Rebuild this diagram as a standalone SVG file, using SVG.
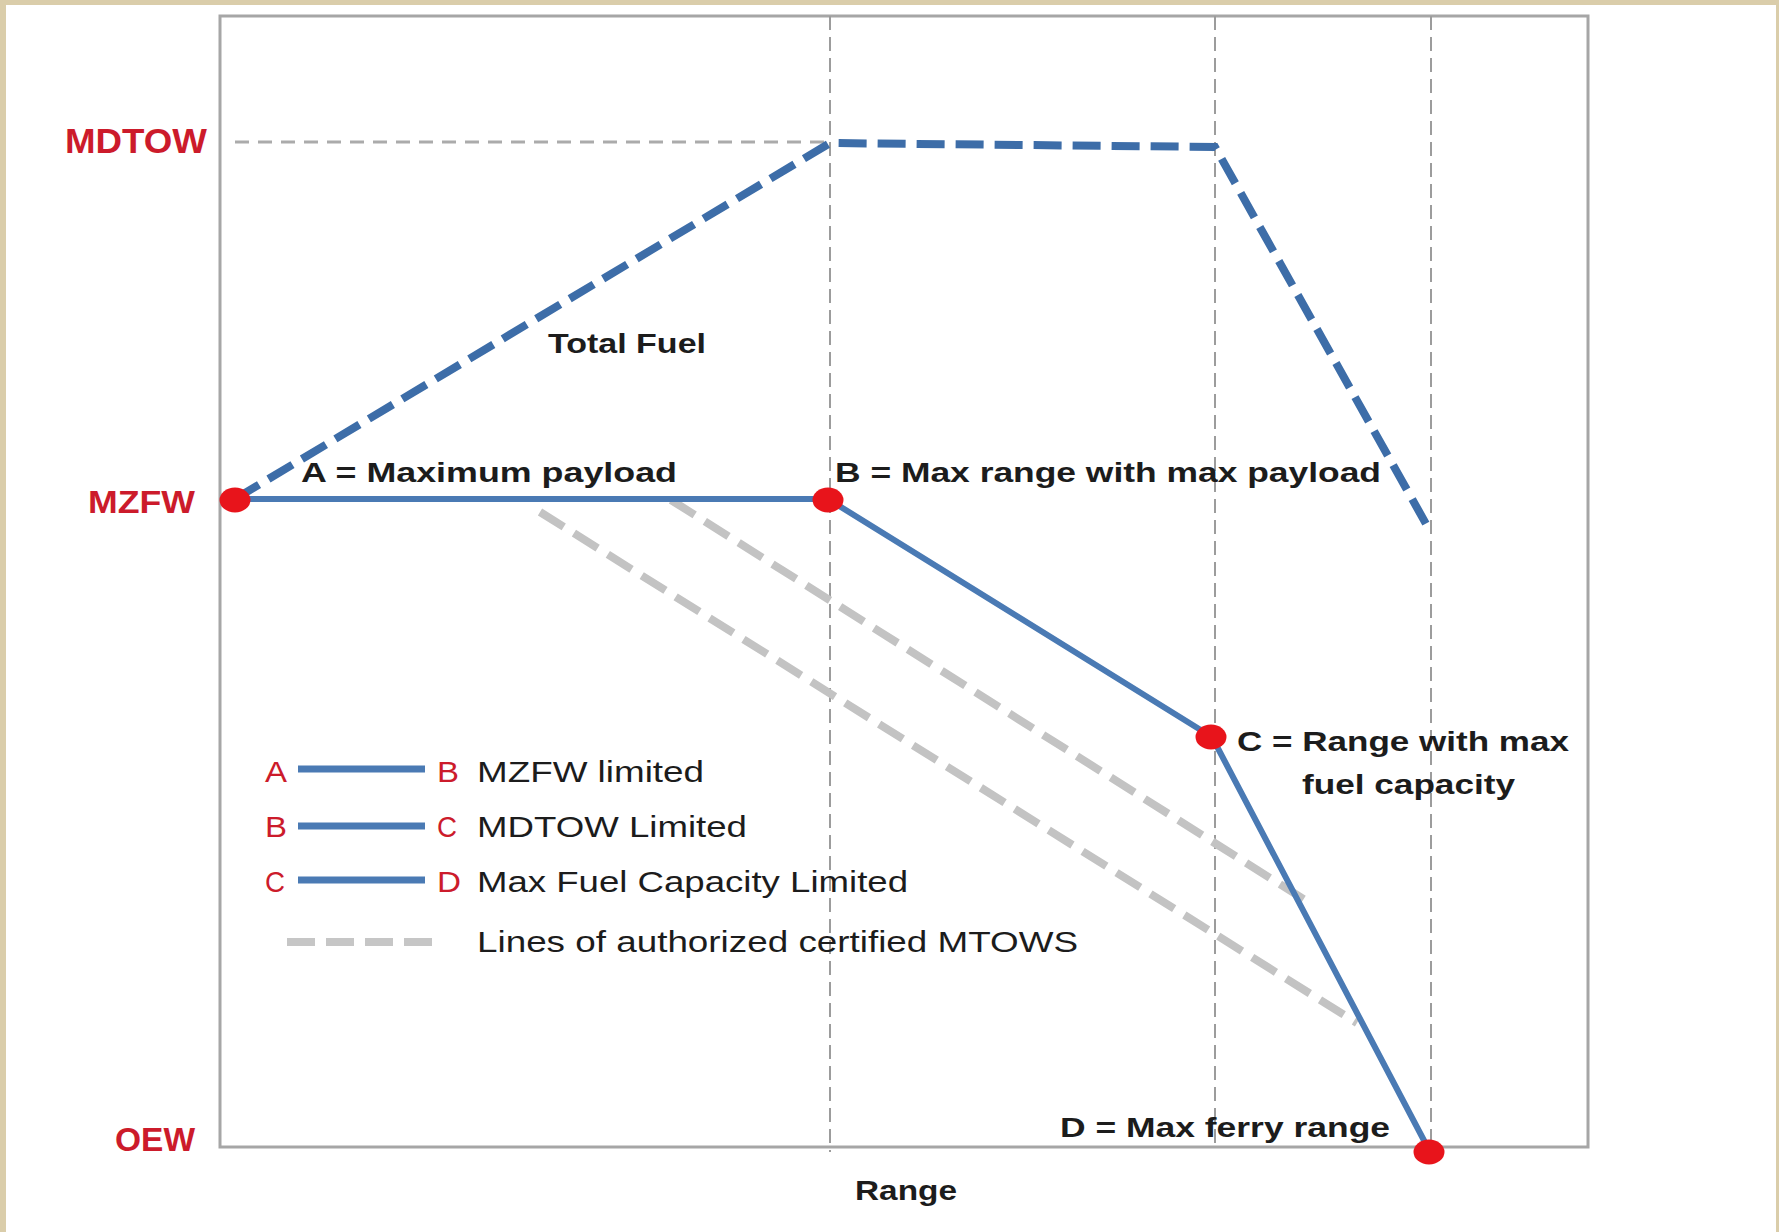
<svg xmlns="http://www.w3.org/2000/svg" width="1779" height="1232" viewBox="0 0 1779 1232">
<style>
  .ax { font-family: "Liberation Sans", Arial, sans-serif; font-weight: bold; fill: #cc1b2b; }
  .lbl { font-family: "Liberation Sans", Arial, sans-serif; font-weight: bold; fill: #1c1c1c; font-size: 28px; }
  .leg { font-family: "Liberation Sans", Arial, sans-serif; fill: #1c1c1c; font-size: 30px; }
  .legk { font-family: "Liberation Sans", Arial, sans-serif; fill: #cc1b2b; font-size: 30px; }
  .grid { stroke: #9c9c9c; stroke-width: 2; stroke-dasharray: 14 7; fill: none; }
  .solid { stroke: #4a7ab4; stroke-width: 6; fill: none; stroke-linejoin: round; }
  .fuel { stroke: #3d6da8; stroke-width: 8; fill: none; stroke-dasharray: 28 11; }
  .mtow { stroke: #c3c3c3; stroke-width: 8; fill: none; stroke-dasharray: 28 12; }
  .pt { fill: #e8141b; }
</style>
<rect x="0" y="0" width="1779" height="1232" fill="#dacdaa"/>
<rect x="6" y="5" width="1770" height="1227" fill="#ffffff"/>
<rect id="plot-frame" x="220" y="16" width="1368" height="1131" fill="#ffffff" stroke="#a6a6a6" stroke-width="3"/>

<g id="axis-labels">
  <text class="ax" x="65" y="153" font-size="35" textLength="142" lengthAdjust="spacingAndGlyphs">MDTOW</text>
  <text class="ax" x="88" y="513" font-size="32" textLength="107" lengthAdjust="spacingAndGlyphs">MZFW</text>
  <text class="ax" x="115" y="1151" font-size="33" textLength="80" lengthAdjust="spacingAndGlyphs">OEW</text>
  <text class="lbl" x="855" y="1200" textLength="102" lengthAdjust="spacingAndGlyphs">Range</text>
</g>

<g id="connectors">
  <line class="grid" x1="830" y1="16" x2="830" y2="1152"/>
  <line class="grid" x1="1215" y1="16" x2="1215" y2="1147"/>
  <line class="grid" x1="1431" y1="16" x2="1431" y2="1147"/>
  <line x1="235" y1="142" x2="828" y2="142" stroke="#ababab" stroke-width="3" stroke-dasharray="14 9"/>
  <line class="mtow" x1="671" y1="500" x2="1305" y2="900"/>
  <line class="mtow" x1="540" y1="512" x2="1357" y2="1023"/>
  <path id="total-fuel" class="fuel" d="M235,499 L830,143 L1215,147 L1430,531"/>
  <path id="payload-range" class="solid" d="M235,499 L828,499 L1212,737 L1429,1150"/>
</g>

<g id="label-total-fuel">
  <text class="lbl" x="548" y="353" textLength="158" lengthAdjust="spacingAndGlyphs">Total Fuel</text>
</g>

<g id="node-A">
  <ellipse class="pt" cx="235" cy="500" rx="15.5" ry="12.5"/>
  <text class="lbl" x="301" y="482" textLength="376" lengthAdjust="spacingAndGlyphs">A = Maximum  payload</text>
</g>
<g id="node-B">
  <ellipse class="pt" cx="828" cy="500" rx="15.5" ry="12.5"/>
  <text class="lbl" x="835" y="482" textLength="546" lengthAdjust="spacingAndGlyphs">B = Max range with max payload</text>
</g>
<g id="node-C">
  <ellipse class="pt" cx="1211" cy="737" rx="15.5" ry="12.5"/>
  <text class="lbl" x="1237" y="751" textLength="332" lengthAdjust="spacingAndGlyphs">C = Range with max</text>
  <text class="lbl" x="1302" y="794" textLength="213" lengthAdjust="spacingAndGlyphs">fuel capacity</text>
</g>
<g id="node-D">
  <ellipse class="pt" cx="1429" cy="1152" rx="15.5" ry="12.5"/>
  <text class="lbl" x="1060" y="1137" textLength="330" lengthAdjust="spacingAndGlyphs">D = Max ferry range</text>
</g>

<g id="legend">
  <text class="legk" x="265" y="782" textLength="22" lengthAdjust="spacingAndGlyphs">A</text>
  <line x1="298" y1="769" x2="425" y2="769" stroke="#4a7ab4" stroke-width="7"/>
  <text class="legk" x="437" y="782" textLength="22" lengthAdjust="spacingAndGlyphs">B</text>
  <text class="leg" x="477" y="782" textLength="227" lengthAdjust="spacingAndGlyphs">MZFW limited</text>

  <text class="legk" x="265" y="837" textLength="22" lengthAdjust="spacingAndGlyphs">B</text>
  <line x1="298" y1="826" x2="425" y2="826" stroke="#4a7ab4" stroke-width="7"/>
  <text class="legk" x="437" y="837" textLength="20" lengthAdjust="spacingAndGlyphs">C</text>
  <text class="leg" x="477" y="837" textLength="270" lengthAdjust="spacingAndGlyphs">MDTOW Limited</text>

  <text class="legk" x="265" y="892" textLength="20" lengthAdjust="spacingAndGlyphs">C</text>
  <line x1="298" y1="880" x2="425" y2="880" stroke="#4a7ab4" stroke-width="7"/>
  <text class="legk" x="437" y="892" textLength="24" lengthAdjust="spacingAndGlyphs">D</text>
  <text class="leg" x="477" y="892" textLength="431" lengthAdjust="spacingAndGlyphs">Max Fuel Capacity Limited</text>

  <line x1="287" y1="942" x2="434" y2="942" stroke="#c6c6c6" stroke-width="8" stroke-dasharray="28 11"/>
  <text class="leg" x="477" y="952" textLength="601" lengthAdjust="spacingAndGlyphs">Lines of authorized certified MTOWS</text>
</g>
</svg>
